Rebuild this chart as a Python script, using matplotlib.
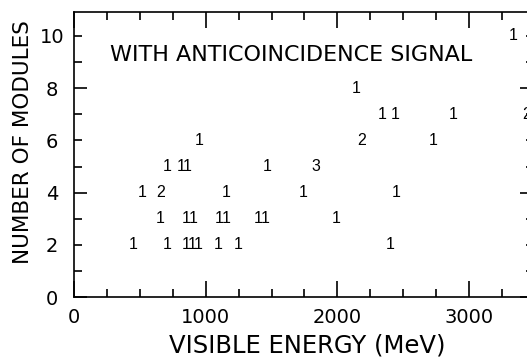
import matplotlib
matplotlib.use('Agg')
import matplotlib.pyplot as plt
from matplotlib.ticker import MultipleLocator

plt.rcParams['font.family'] = 'DejaVu Sans'

# events: visible energy (MeV), number of modules, and the count printed there
energy = [450, 705, 850, 897, 945, 1095, 1250, 2400,
          655, 852, 902, 1105, 1155, 1400, 1450, 1990,
          514, 658, 1152, 1741, 2445,
          709, 813, 863, 1463, 1835,
          951, 2184, 2728,
          2341, 2437, 2880, 3440,
          2146,
          3331]
modules = [2, 2, 2, 2, 2, 2, 2, 2,
           3, 3, 3, 3, 3, 3, 3, 3,
           4, 4, 4, 4, 4,
           5, 5, 5, 5, 5,
           6, 6, 6,
           7, 7, 7, 7,
           8,
           10]
counts = ['1', '1', '1', '1', '1', '1', '1', '1',
          '1', '1', '1', '1', '1', '1', '1', '1',
          '1', '2', '1', '1', '1',
          '1', '1', '1', '1', '3',
          '1', '2', '1',
          '1', '1', '1', '2',
          '1',
          '1']

y_major = [0, 4, 8]
y_minor = [1, 2, 3, 5, 6, 7, 9, 10]
y_minor_labels = ['', '2', '', '', '6', '', '', '10']

fig = plt.figure(figsize=(5.27, 3.6), dpi=100)
# the frame runs past the right edge of the picture, as in the scan
ax = fig.add_axes([74 / 527, 1 - 297.3 / 360, 459 / 527, 285.6 / 360])
ax.set_xlim(0, 3485)
ax.set_ylim(0, 10.92)

for x, y, c in zip(energy, modules, counts):
    ax.text(x, y, c, ha='center', va='center', fontsize=11.5, fontweight='medium',
            family=['Liberation Sans Narrow', 'Liberation Sans', 'DejaVu Sans'])

ax.text(273, 9.28, 'WITH ANTICOINCIDENCE SIGNAL', ha='left', va='center', fontsize=16)

# ticks
ax.set_xticks([0, 1000, 2000, 3000])
ax.xaxis.set_minor_locator(MultipleLocator(250))
ax.set_yticks(y_major, [str(v) for v in y_major])
ax.set_yticks(y_minor, y_minor_labels, minor=True)

ax.tick_params(which='both', direction='in', top=True, right=True, width=1.2, labelsize=14)
ax.tick_params(axis='x', which='major', length=11.5, pad=8)
ax.tick_params(axis='x', which='minor', length=5.8)
ax.tick_params(axis='y', which='major', length=9.4, pad=15.8)
ax.tick_params(axis='y', which='minor', length=5.4, pad=15.8)
for lab in ax.get_yticklabels(which='both'):
    lab.set_horizontalalignment('center')

for s in ax.spines.values():
    s.set_linewidth(1.2)

fig.text(307.5 / 527, 1 - 345 / 360, 'VISIBLE ENERGY (MeV)', ha='center', va='center', fontsize=17.5)
fig.text(23 / 527, 1 - 142 / 360, 'NUMBER OF MODULES', ha='center', va='center',
         rotation=90, fontsize=15.5)

fig.savefig('out.png', dpi=100)
